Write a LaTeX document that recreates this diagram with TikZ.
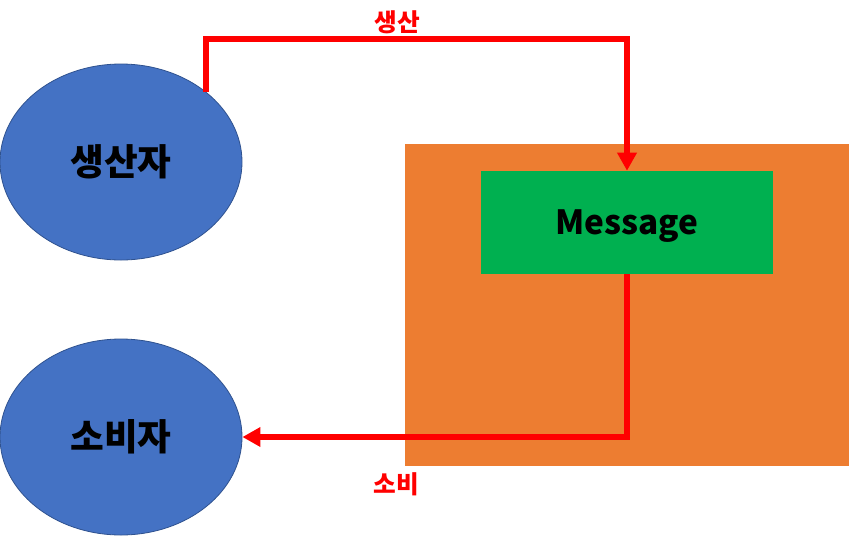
\documentclass[tikz,border=0pt]{standalone}
\usepackage{fontspec}
\setmainfont{Noto Sans CJK KR}
\usetikzlibrary{shapes.geometric,arrows.meta}
\definecolor{ellblue}{HTML}{4472C4}
\definecolor{ellborder}{HTML}{2F528F}
\definecolor{boxorange}{HTML}{ED7D31}
\definecolor{boxgreen}{HTML}{00B050}
\definecolor{arrred}{HTML}{FF0000}
\tikzset{
  actor/.style={ellipse, fill=ellblue, draw=ellborder, line width=0.6pt,
    minimum width=181.5pt, minimum height=147pt, inner sep=0pt,
    font=\fontsize{27.5}{32}\selectfont\bfseries, text=black},
  flow/.style={draw=arrred, line width=4.5pt, -{Triangle[length=13.5pt,width=14pt]}},
  flowlabel/.style={text=arrred, font=\fontsize{18.5}{22}\selectfont\bfseries, inner sep=0pt},
}
\begin{document}
\begin{tikzpicture}[x=0.75pt,y=-0.75pt]
\useasboundingbox (0,0) rectangle (849,536);
\fill[boxorange] (405,144) rectangle (849,466);
\node[fill=boxgreen, minimum width=219pt, minimum height=77.25pt, inner sep=0pt,
  text height=18.3pt, text depth=0pt,
  font=\fontsize{25}{30}\selectfont\bfseries] (msg) at (627,222.5) {Message};
\node[actor] (prod) at (121,162) {생산자};
\node[actor] (cons) at (121,437) {소비자};
\coordinate (pstart) at (206,92);
\coordinate (ptop) at (627,39);
\draw[flow] (pstart) |- (ptop) -- (msg.north);
\draw[flow] (msg.south) |- (cons.east);
\node[flowlabel] (lprod) at (397,22) {생산};
\node[flowlabel] (lcons) at (396,484) {소비};
\end{tikzpicture}
\end{document}
